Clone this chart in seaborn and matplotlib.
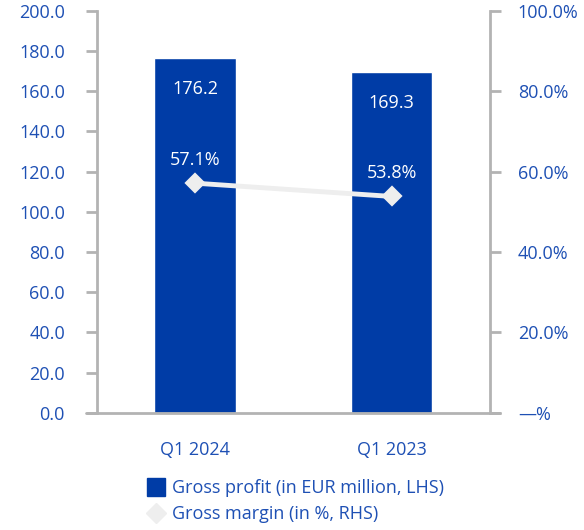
import matplotlib
matplotlib.use('Agg')
import numpy as np
import pandas as pd
from matplotlib import pyplot as plt
from matplotlib import ticker as ticker
from matplotlib.lines import Line2D
import seaborn as sns

sns.set_style('white')
plt.rcParams['font.family'] = ['Open Sans', 'DejaVu Sans']

quarters = ['Q1 2024', 'Q1 2023']
gross_profit = [176.2, 169.3]
gross_margin = [57.1, 53.8]
profit_labels = ['176.2', '169.3']
margin_labels = ['57.1%', '53.8%']
legend_labels = ['Gross profit (in EUR million, LHS)', 'Gross margin (in %, RHS)']

bar_color = '#003ca6'
line_color = '#eeeeee'
text_color = '#1e50b4'
axis_color = '#b3b3b3'
fs = 13

df = pd.DataFrame({'quarter': quarters, 'profit': gross_profit, 'margin': gross_margin})

fig = plt.figure(figsize=(5.84, 5.30), dpi=100)
ax = fig.add_axes([0.166, 0.221, 0.673, 0.759])

sns.barplot(data=df, x='quarter', y='profit', color=bar_color, width=0.415,
            saturation=1, ax=ax, zorder=2)
ax.set_ylim(0, 200)
ax.yaxis.set_major_locator(ticker.MultipleLocator(20))
ax.yaxis.set_major_formatter(ticker.FormatStrFormatter('%.1f'))

ax2 = ax.twinx()
sns.pointplot(data=df, x='quarter', y='margin', color=line_color, markers='D',
              linewidth=3.5, markersize=8.5, ax=ax2, errorbar=None)
ax2.set_ylim(0, 100)
ax2.yaxis.set_major_locator(ticker.MultipleLocator(20))
ax2.yaxis.set_major_formatter(ticker.FuncFormatter(lambda v, p: '—%' if v == 0 else '%.1f%%' % v))
ax.set_xlim(-0.5, 1.5)
ax2.set_xlim(-0.5, 1.5)

for a in (ax, ax2):
    for s in a.spines.values():
        s.set_visible(False)
    a.set_xlabel('')
    a.set_ylabel('')
    a.grid(False)

ax.spines['left'].set_visible(True)
ax.spines['left'].set_color(axis_color)
ax.spines['left'].set_linewidth(2)
ax2.spines['right'].set_visible(True)
ax2.spines['right'].set_color(axis_color)
ax2.spines['right'].set_linewidth(2)
ax.axhline(0, xmin=-0.028, xmax=1.025, color=axis_color, linewidth=2, clip_on=False, zorder=3)

ax.tick_params(axis='y', left=True, length=8, width=2, color=axis_color, pad=15,
               labelsize=fs, labelcolor=text_color)
ax2.tick_params(axis='y', right=True, length=8, width=2, color=axis_color, pad=12,
                labelsize=fs, labelcolor=text_color)
ax.tick_params(axis='x', bottom=False, pad=17, labelsize=fs, labelcolor=text_color)
ax2.tick_params(axis='x', bottom=False, labelbottom=False)

for i, (v, lab) in enumerate(zip(gross_profit, profit_labels)):
    ax.annotate(lab, (i, v), xytext=(0, -22), textcoords='offset points',
                ha='center', va='center', color='white', fontsize=fs)
for i, (v, lab) in enumerate(zip(gross_margin, margin_labels)):
    ax2.annotate(lab, (i, v), xytext=(0, 17), textcoords='offset points',
                 ha='center', va='center', color='white', fontsize=fs)

handles = [Line2D([], [], marker='s', linestyle='', color=bar_color, markersize=13),
           Line2D([], [], marker='D', linestyle='', color=line_color, markersize=10)]
fig.legend(handles, legend_labels, loc='upper left', bbox_to_anchor=(0.252, 0.096),
           frameon=False, fontsize=fs, labelcolor=text_color, handlelength=1.0,
           handletextpad=0.4, borderpad=0, borderaxespad=0, labelspacing=0.45)

fig.savefig('out.png', dpi=100)
